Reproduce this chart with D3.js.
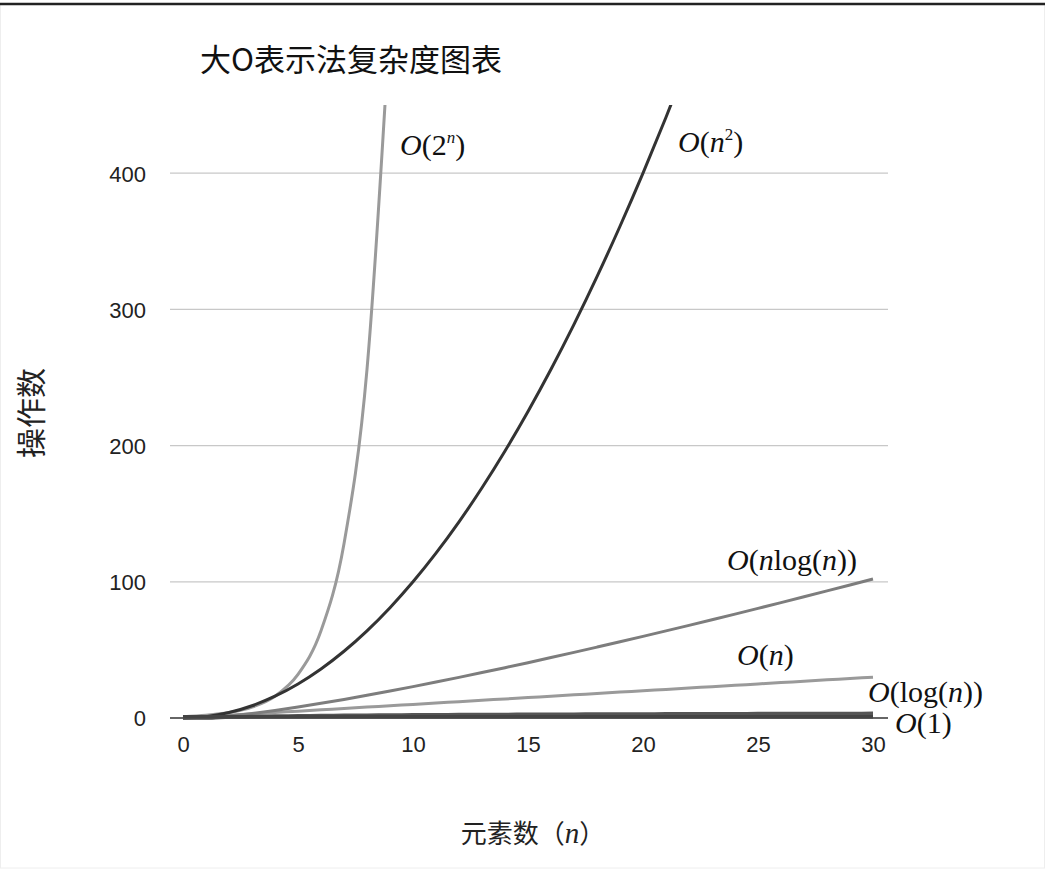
<!DOCTYPE html>
<html><head><meta charset="utf-8">
<script src="https://cdn.jsdelivr.net/npm/d3@7"></script>
<style>body{margin:0;background:#fff}svg{display:block}</style>
</head><body>
<svg id="c" width="1045" height="870"></svg>
<script>
// ---- data ----
const nValues = [0,1,2,3,4,5,6,7,8,9,10,11,12,13,14,15,16,17,18,19,20,21,22,23,24,25,26,27,28,29,30];
const constVals = [1,1,1,1,1,1,1,1,1,1,1,1,1,1,1,1,1,1,1,1,1,1,1,1,1,1,1,1,1,1,1];
const logVals = [0,0,0.69,1.10,1.39,1.61,1.79,1.95,2.08,2.20,2.30,2.40,2.48,2.56,2.64,2.71,2.77,2.83,2.89,2.94,3.00,3.04,3.09,3.14,3.18,3.22,3.26,3.30,3.33,3.37,3.40];
const linVals = [0,1,2,3,4,5,6,7,8,9,10,11,12,13,14,15,16,17,18,19,20,21,22,23,24,25,26,27,28,29,30];
const nlognVals = [0,0,1.39,3.30,5.55,8.05,10.75,13.62,16.64,19.78,23.03,26.38,29.82,33.34,36.95,40.62,44.36,48.16,52.03,55.94,59.91,63.93,68.00,72.12,76.27,80.47,84.71,88.99,93.30,97.65,102.04];
const sqVals = [0,1,4,9,16,25,36,49,64,81,100,121,144,169,196,225,256,289,324,361,400,441,484,529,576];
const expVals = [1,2,4,8,16,32,64,128,256,512];
const yTicks = [0,100,200,300,400];
const xTicks = [0,5,10,15,20,25,30];
const titleText = "大O表示法复杂度图表";
const yTitle = "操作数";

const svg = d3.select("#c");
// frame
svg.append("rect").attr("x",0.5).attr("y",4).attr("width",1044).attr("height",864)
  .attr("fill","none").attr("stroke","#eee").attr("stroke-width",1);
svg.append("line").attr("x1",0).attr("x2",1045).attr("y1",4).attr("y2",4)
  .attr("stroke","#222").attr("stroke-width",2.5);

const x = d3.scaleLinear().domain([0,30]).range([183,873]);
const y = d3.scaleLinear().domain([0,450]).range([718,105]);
const gridX0 = 170, gridX1 = 888;

// gridlines
svg.append("g").selectAll("line").data(yTicks.filter(d=>d>0)).join("line")
  .attr("x1",gridX0).attr("x2",gridX1).attr("y1",d=>y(d)).attr("y2",d=>y(d))
  .attr("stroke","#c8c8c8").attr("stroke-width",1.3);
// baseline
svg.append("line").attr("x1",gridX0).attr("x2",gridX1).attr("y1",y(0)).attr("y2",y(0))
  .attr("stroke","#333").attr("stroke-width",1.5);

// axes labels via d3 axes
const yAxis = svg.append("g").attr("transform",`translate(146,0)`)
  .call(d3.axisLeft(y).tickValues(yTicks).tickSize(0).tickPadding(0));
yAxis.select(".domain").remove();
yAxis.selectAll("text").attr("font-family","Liberation Sans, Arial, sans-serif")
  .attr("font-size",22).attr("fill","#222").attr("dy","0.36em");

const xAxis = svg.append("g").attr("transform",`translate(0,${y(0)})`)
  .call(d3.axisBottom(x).tickValues(xTicks).tickSize(0).tickPadding(18));
xAxis.select(".domain").remove();
xAxis.selectAll("text").attr("font-family","Liberation Sans, Arial, sans-serif")
  .attr("font-size",22).attr("fill","#222").attr("dy","0.71em");

// clip
svg.append("clipPath").attr("id","clip").append("rect")
  .attr("x",150).attr("y",y(450)).attr("width",760).attr("height",y(0)-y(450)+10);

const series = [
  {vals: linVals, color:"#9a9a9a", w:3},
  {vals: nlognVals, color:"#7d7d7d", w:3},
  {vals: expVals, color:"#9a9a9a", w:3},
  {vals: sqVals, color:"#333333", w:3},
  {vals: logVals, color:"#555555", w:3.5},
  {vals: constVals, color:"#444444", w:3.5}
];
const line = d3.line().x((d,i)=>x(nValues[i])).y(d=>y(d)).curve(d3.curveMonotoneX);
svg.append("g").attr("clip-path","url(#clip)").selectAll("path").data(series).join("path")
  .attr("d",s=>line(s.vals)).attr("fill","none").attr("stroke",s=>s.color)
  .attr("stroke-width",s=>s.w).attr("stroke-linejoin","round");

// title
svg.append("text").attr("x",200).attr("y",71).text(titleText)
  .attr("font-family","Noto Sans CJK SC, sans-serif").attr("font-size",31).attr("fill","#111");

// y title
svg.append("text").attr("transform","translate(31,413) rotate(-90)").attr("text-anchor","middle")
  .attr("dy","0.35em")
  .text(yTitle).attr("font-family","Noto Sans CJK SC, sans-serif").attr("font-size",30).attr("fill","#222");

// x title
const xt = svg.append("text").attr("x",533).attr("y",843).attr("text-anchor","middle")
  .attr("font-family","Noto Sans CJK SC, sans-serif").attr("font-size",26).attr("fill","#222");
xt.append("tspan").text("元素数（");
xt.append("tspan").text("n").attr("font-family","Liberation Serif, serif").attr("font-style","italic").attr("font-size",29);
xt.append("tspan").text("）");

// curve labels
const serif = "Liberation Serif, Times New Roman, serif";
function label(xp, yp, parts){
  const t = svg.append("text").attr("x",xp).attr("y",yp).attr("font-family",serif)
    .attr("font-size",30).attr("fill","#111");
  parts.forEach(p=>{
    const s = t.append("tspan").text(p[0]);
    if(p[1]==="i") s.attr("font-style","italic");
    if(p[1]==="sup") s.attr("font-style","italic").attr("font-size",17).attr("dy",-12);
    if(p[1]==="supu") s.attr("font-size",17).attr("dy",-12);
    if(p[2]==="down") s.attr("dy",12);
  });
}
label(400,155,[["O","i"],["(2"],["n","sup"],[")","n","down"]]);
label(678,152,[["O","i"],["("],["n","i"],["2","supu"],[")","n","down"]]);
label(727,570,[["O","i"],["("],["n","i"],["log("],["n","i"],["))"]]);
label(737,665,[["O","i"],["("],["n","i"],[")"]]);
label(868,702,[["O","i"],["(log("],["n","i"],["))"]]);
label(895,733,[["O","i"],["(1)"]]);
</script>
</body></html>
